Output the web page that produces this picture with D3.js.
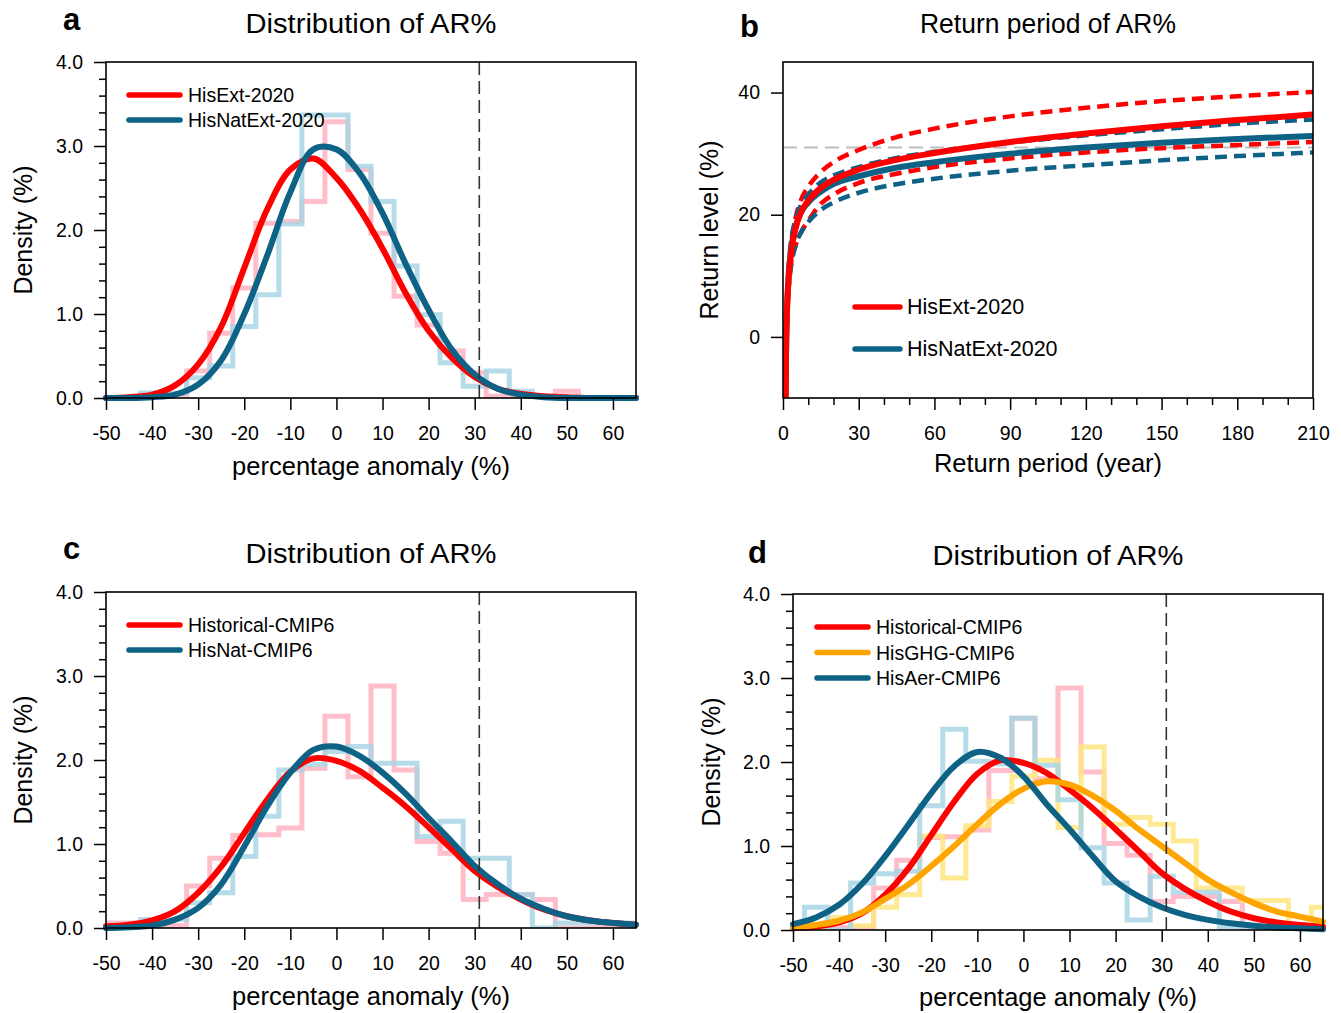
<!DOCTYPE html>
<html><head><meta charset="utf-8">
<script src="https://cdn.jsdelivr.net/npm/d3@7"></script>
<style>
body{margin:0;background:#fff}
svg text{font-family:"Liberation Sans",Arial,Helvetica,sans-serif;fill:#000}
</style>
</head><body>
<svg id="chart" width="1341" height="1013"></svg>
<script>
// ---------------- DATA ----------------
const binCenters = [-50,-45,-40,-35,-30,-25,-20,-15,-10,-5,0,5,10,15,20,25,30,35,40,45,50,55,60,65];
const pdfX       = [-50,-45,-40,-35,-30,-25,-20,-15,-10,-5,0,5,10,15,20,25,30,35,40,45,50,55,60,65];
const observed2020 = 31;

// panel a
const histA_HisExt    = [0,0,0.04,0.04,0.32,0.77,1.31,2.08,2.10,2.34,3.29,2.72,1.96,1.21,0.87,0.56,0.30,0.02,0.02,0,0.08,0,0,0];
const histA_HisNatExt = [0,0,0.06,0.06,0.24,0.38,0.85,1.23,2.07,3.37,3.37,2.76,2.34,1.57,0.99,0.42,0.14,0.32,0.08,0,0,0,0,0];
const pdfA_HisExt     = [0,0.01,0.04,0.15,0.40,0.85,1.55,2.25,2.72,2.85,2.62,2.25,1.78,1.25,0.80,0.48,0.25,0.11,0.05,0.02,0.01,0,0,0];
const pdfA_HisNatExt  = [0,0,0.01,0.04,0.16,0.45,1.00,1.70,2.45,2.96,2.96,2.68,2.20,1.60,1.05,0.58,0.28,0.11,0.04,0.01,0,0,0,0];

// panel c / d (Historical shared)
const hist_Historical = [0.06,0.06,0.03,0.03,0.50,0.83,1.10,1.11,1.19,1.90,2.52,1.80,2.88,1.88,1.03,0.89,0.34,0.40,0.40,0.34,0,0,0.03,0.03];
const histC_HisNat    = [0,0,0.10,0.10,0.30,0.42,0.85,1.33,1.88,1.95,2.10,2.16,1.96,1.96,1.09,1.27,0.83,0.83,0.40,0,0.06,0.06,0.06,0.06];
const pdf_Historical  = [0.02,0.04,0.09,0.20,0.42,0.73,1.13,1.53,1.86,2.02,1.99,1.87,1.67,1.45,1.20,0.94,0.68,0.49,0.34,0.22,0.14,0.09,0.06,0.04];
const pdfC_HisNat     = [0,0.01,0.03,0.10,0.24,0.52,0.97,1.45,1.85,2.12,2.16,2.05,1.85,1.60,1.31,1.03,0.74,0.52,0.35,0.23,0.14,0.09,0.06,0.04];

// panel d
const histD_HisGHG = [0.03,0.03,0.15,0.05,0.27,0.42,1.12,0.62,1.24,1.53,1.83,2.02,1.22,2.18,1.26,1.34,1.26,1.06,0.50,0.50,0.35,0.35,0,0.27];
const histD_HisAer = [0,0.27,0,0.56,0.67,0.70,1.48,2.39,2.01,1.98,2.52,1.96,1.55,0.98,0.56,0.12,0.64,0.45,0.45,0.04,0.04,0.04,0,0];
const pdfD_HisGHG  = [0.03,0.06,0.11,0.21,0.37,0.54,0.76,1.00,1.26,1.50,1.68,1.77,1.73,1.60,1.42,1.20,1.00,0.80,0.60,0.45,0.32,0.22,0.16,0.10];
const pdfD_HisAer  = [0.07,0.15,0.30,0.55,0.88,1.25,1.63,1.95,2.12,2.05,1.83,1.50,1.20,0.88,0.58,0.40,0.27,0.18,0.12,0.08,0.05,0.03,0.02,0.01];

// panel b (return period, years)
const rpT   = [1.05,1.2,1.5,2,3,5,7,10,15,20,30,45,60,90,120,150,180,210];
const rpTci = [2,3,5,7,10,15,20,30,45,60,90,120,150,180,210];
const rl_HisExt       = [-10,-3,3,8,13,17.8,20.3,22.3,24.4,25.7,27.4,29.0,30.1,31.9,33.3,34.5,35.5,36.4];
const rl_HisNatExt    = [-10,-3,3.5,8.5,13.5,18,20.3,22,23.8,25,26.3,27.7,28.6,30,31,31.8,32.4,32.9];
const rl_HisExt_hi    = [10,14.5,19.5,22.3,24.6,27,28.6,30.6,32.7,34.1,36.1,37.5,38.6,39.4,40.1];
const rl_HisExt_lo    = [7.5,11.5,15,17,19,21.8,23.3,25.2,26.7,27.8,29.2,30.2,30.9,31.4,31.9];
const rl_HisNatExt_hi = [10.5,15,19.3,21.5,23.3,25.3,26.4,27.8,29.3,30.3,31.8,33,34,34.9,35.6];
const rl_HisNatExt_lo = [7,11,15,17,18.8,20.8,22,23.6,25,25.9,27.2,28.1,28.9,29.6,30.2];

const densityTicks = [0,1,2,3,4];
const anomalyTicks = [-50,-40,-30,-20,-10,0,10,20,30,40,50,60];
const periodTicks  = [0,30,60,90,120,150,180,210];
const levelTicks   = [0,20,40];

// ---------------- STYLE ----------------
const RED = "#ff0000", BLUE = "#0d6285", ORANGE = "#ffa500";
const PINK = "#ffb3bf", LBLUE = "#a9d6e5", LYELLOW = "#ffe680";
const plainFmt = d => String(d);

const svg = d3.select("#chart");
let clipId = 0;

function frameAndClip(p){
  const id = "clip" + (clipId++);
  svg.append("clipPath").attr("id", id).append("rect")
    .attr("x", p.x0).attr("y", p.y0).attr("width", p.x1 - p.x0).attr("height", p.y1 - p.y0);
  return id;
}

function styleAxis(g, size){
  g.select(".domain").remove();
  g.selectAll("line").attr("stroke", "#000").attr("stroke-width", 1.5);
  g.selectAll("text").attr("font-size", size).attr("font-family", null).attr("fill", "#000");
  g.attr("font-family", null).attr("font-size", null);
}

function titles(p, t){
  svg.append("text").attr("x", (p.x0 + p.x1) / 2).attr("y", p.y0 - 29)
    .attr("text-anchor", "middle").attr("font-size", 27)
    .attr("textLength", t.titleW).attr("lengthAdjust", "spacingAndGlyphs").text(t.title);
  svg.append("text").attr("x", t.lx).attr("y", t.ly).attr("font-size", 31)
    .attr("font-weight", "bold").text(t.letter);
  svg.append("text").attr("x", (p.x0 + p.x1) / 2).attr("y", p.y1 + t.xtOff)
    .attr("text-anchor", "middle").attr("font-size", 25.5).text(t.xtitle);
  svg.append("text").attr("transform", `translate(${t.ytx},${(p.y0 + p.y1) / 2}) rotate(-90)`)
    .attr("text-anchor", "middle").attr("font-size", 25).text(t.ytitle);
}

function legend(L){
  L.items.forEach((it, i) => {
    const y = L.y0 + i * L.dy;
    svg.append("line").attr("x1", L.x0).attr("x2", L.x1).attr("y1", y).attr("y2", y)
      .attr("stroke", it.color).attr("stroke-width", 5.5).attr("stroke-linecap", "round");
    svg.append("text").attr("x", L.tx).attr("y", y + 7).attr("font-size", L.fs).text(it.name);
  });
}

function densityPanel(p, cfg){
  const x = d3.scaleLinear().domain([-50, 65]).range([p.x0, p.x1]);
  const y = d3.scaleLinear().domain([0, 4]).range([p.y1, p.y0]);
  const cid = frameAndClip(p);
  const plot = svg.append("g").attr("clip-path", `url(#${cid})`);

  const stepLine = d3.line().x(d => x(d[0])).y(d => y(d[1])).curve(d3.curveStepAfter);
  cfg.hists.forEach(h => {
    const pts = binCenters.map((c, i) => [c - 2.5, h.values[i]]);
    pts.push([binCenters[binCenters.length - 1] + 2.5, h.values[h.values.length - 1]]);
    plot.append("path").attr("d", stepLine(pts)).attr("fill", "none")
      .attr("stroke", h.color).attr("stroke-width", 5).attr("stroke-opacity", 0.85)
      .attr("stroke-linejoin", "miter");
  });

  const curveLine = d3.line().x(d => x(d[0])).y(d => y(Math.max(0, d[1]))).curve(d3.curveCatmullRom.alpha(0.5));
  cfg.curves.forEach(c => {
    svg.append("path").attr("d", curveLine(pdfX.map((v, i) => [v, c.values[i]])))
      .attr("fill", "none").attr("stroke", c.color).attr("stroke-width", 6)
      .attr("stroke-linecap", "round").attr("stroke-linejoin", "round");
  });

  svg.append("line").attr("x1", x(observed2020)).attr("x2", x(observed2020))
    .attr("y1", p.y0).attr("y2", p.y1).attr("stroke", "#333").attr("stroke-width", 1.6)
    .attr("stroke-dasharray", "13,6");

  svg.append("rect").attr("x", p.x0).attr("y", p.y0).attr("width", p.x1 - p.x0).attr("height", p.y1 - p.y0)
    .attr("fill", "none").attr("stroke", "#000").attr("stroke-width", 1.6);

  const gx = svg.append("g").attr("transform", `translate(0,${p.y1})`)
    .call(d3.axisBottom(x).tickValues(anomalyTicks).tickSize(12).tickPadding(16).tickSizeOuter(0).tickFormat(plainFmt));
  styleAxis(gx, 19.5);
  const gy = svg.append("g").attr("transform", `translate(${p.x0},0)`)
    .call(d3.axisLeft(y).tickValues(densityTicks).tickSize(12).tickPadding(11).tickSizeOuter(0).tickFormat(d3.format(".1f")));
  styleAxis(gy, 19.5);
  const minor = d3.range(0, 4.01, 0.2).filter(v => Math.abs(v - Math.round(v)) > 1e-6);
  const gym = svg.append("g").attr("transform", `translate(${p.x0},0)`)
    .call(d3.axisLeft(y).tickValues(minor).tickSize(7).tickSizeOuter(0).tickFormat(""));
  styleAxis(gym, 19);

  titles(p, cfg.text);
  legend(cfg.legend);
}

// ---------------- PANEL A ----------------
const PA = {x0:106, x1:636, y0:62, y1:398};
densityPanel(PA, {
  hists: [{values: histA_HisExt, color: PINK}, {values: histA_HisNatExt, color: LBLUE}],
  curves: [{values: pdfA_HisExt, color: RED}, {values: pdfA_HisNatExt, color: BLUE}],
  text: {title: "Distribution of AR%", titleW: 251, letter: "a", lx: 63, ly: 30,
         xtitle: "percentage anomaly (%)", xtOff: 77, ytitle: "Density (%)", ytx: 32},
  legend: {x0: 129, x1: 180, tx: 188, y0: 95, dy: 25, fs: 19.5,
           items: [{name: "HisExt-2020", color: RED}, {name: "HisNatExt-2020", color: BLUE}]}
});

// ---------------- PANEL C ----------------
const PC = {x0:106, x1:636, y0:592, y1:928};
densityPanel(PC, {
  hists: [{values: hist_Historical, color: PINK}, {values: histC_HisNat, color: LBLUE}],
  curves: [{values: pdf_Historical, color: RED}, {values: pdfC_HisNat, color: BLUE}],
  text: {title: "Distribution of AR%", titleW: 251, letter: "c", lx: 63, ly: 559,
         xtitle: "percentage anomaly (%)", xtOff: 77, ytitle: "Density (%)", ytx: 32},
  legend: {x0: 129, x1: 180, tx: 188, y0: 625, dy: 25, fs: 19.5,
           items: [{name: "Historical-CMIP6", color: RED}, {name: "HisNat-CMIP6", color: BLUE}]}
});

// ---------------- PANEL D ----------------
const PD = {x0:793, x1:1323, y0:594, y1:930};
densityPanel(PD, {
  hists: [{values: hist_Historical, color: PINK}, {values: histD_HisGHG, color: LYELLOW}, {values: histD_HisAer, color: LBLUE}],
  curves: [{values: pdf_Historical, color: RED}, {values: pdfD_HisGHG, color: ORANGE}, {values: pdfD_HisAer, color: BLUE}],
  text: {title: "Distribution of AR%", titleW: 251, letter: "d", lx: 748, ly: 563,
         xtitle: "percentage anomaly (%)", xtOff: 76, ytitle: "Density (%)", ytx: 720},
  legend: {x0: 817, x1: 868, tx: 876, y0: 627, dy: 25.5, fs: 19.5,
           items: [{name: "Historical-CMIP6", color: RED}, {name: "HisGHG-CMIP6", color: ORANGE}, {name: "HisAer-CMIP6", color: BLUE}]}
});

// ---------------- PANEL B ----------------
(function(){
  const p = {x0:783, x1:1313, y0:62, y1:398};
  const x = d3.scaleLinear().domain([0, 210]).range([p.x0, p.x1]);
  const y = d3.scaleLinear().domain([-10, 45]).range([p.y1, p.y0]);
  const cid = frameAndClip(p);
  const plot = svg.append("g").attr("clip-path", `url(#${cid})`);

  plot.append("line").attr("x1", p.x0).attr("x2", p.x1).attr("y1", y(observed2020)).attr("y2", y(observed2020))
    .attr("stroke", "#bdbdbd").attr("stroke-width", 2).attr("stroke-dasharray", "14,7");

  const ln = d3.line().x(d => x(d[0])).y(d => y(d[1])).curve(d3.curveMonotoneX);
  const dashed = [
    {T: rpTci, v: rl_HisExt_hi, c: RED}, {T: rpTci, v: rl_HisExt_lo, c: RED},
    {T: rpTci, v: rl_HisNatExt_hi, c: BLUE}, {T: rpTci, v: rl_HisNatExt_lo, c: BLUE}
  ];
  dashed.forEach(s => {
    plot.append("path").attr("d", ln(s.T.map((t, i) => [t, s.v[i]]))).attr("fill", "none")
      .attr("stroke", s.c).attr("stroke-width", 4.5).attr("stroke-dasharray", "12,7");
  });
  [{v: rl_HisNatExt, c: BLUE}, {v: rl_HisExt, c: RED}].forEach(s => {
    plot.append("path").attr("d", ln(rpT.map((t, i) => [t, s.v[i]]))).attr("fill", "none")
      .attr("stroke", s.c).attr("stroke-width", 6).attr("stroke-linecap", "round");
  });

  svg.append("rect").attr("x", p.x0).attr("y", p.y0).attr("width", p.x1 - p.x0).attr("height", p.y1 - p.y0)
    .attr("fill", "none").attr("stroke", "#000").attr("stroke-width", 1.6);

  const gx = svg.append("g").attr("transform", `translate(0,${p.y1})`)
    .call(d3.axisBottom(x).tickValues(periodTicks).tickSize(12).tickPadding(16).tickSizeOuter(0).tickFormat(plainFmt));
  styleAxis(gx, 19.5);
  const gxm = svg.append("g").attr("transform", `translate(0,${p.y1})`)
    .call(d3.axisBottom(x).tickValues(d3.range(10, 210, 10).filter(v => v % 30 !== 0)).tickSize(7).tickSizeOuter(0).tickFormat(""));
  styleAxis(gxm, 19);
  const gy = svg.append("g").attr("transform", `translate(${p.x0},0)`)
    .call(d3.axisLeft(y).tickValues(levelTicks).tickSize(12).tickPadding(11).tickSizeOuter(0).tickFormat(plainFmt));
  styleAxis(gy, 19.5);

  titles(p, {title: "Return period of AR%", titleW: 256, letter: "b", lx: 740, ly: 37,
             xtitle: "Return period (year)", xtOff: 74, ytitle: "Return level (%)", ytx: 718});
  legend({x0: 855, x1: 900, tx: 907, y0: 307, dy: 42, fs: 21.5,
          items: [{name: "HisExt-2020", color: RED}, {name: "HisNatExt-2020", color: BLUE}]});
})();
</script>
</body></html>
